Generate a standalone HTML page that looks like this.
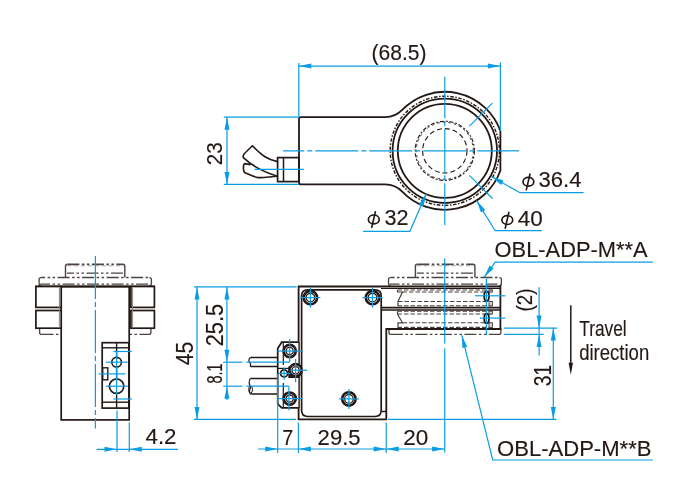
<!DOCTYPE html>
<html><head><meta charset="utf-8"><style>
html,body{margin:0;padding:0;background:#fff;}
svg{display:block;will-change:transform;font-family:"Liberation Sans",sans-serif;}
</style></head><body>
<svg width="700" height="500" viewBox="0 0 700 500">
<rect width="700" height="500" fill="#fff"/>
<path d="M 301,117.2 H 385.1 A 23.6 23.6 0 0 0 402.20,109.98 A 59.0 59.0 0 0 1 500.4,131.06 V 170.54 A 59.0 59.0 0 0 1 402.20,191.62 A 23.6 23.6 0 0 0 385.1,184.4 H 301 Q 299,184.4 299,182.4 V 119.2 Q 299,117.2 301,117.2 Z" fill="none" stroke="#231815" stroke-width="1.8" />
<circle cx="444.80" cy="150.80" r="54.60" fill="none" stroke="#231815" stroke-width="1.4" stroke-dasharray="3.5 1.6 1.5 1.6"/>
<circle cx="444.80" cy="150.80" r="52.20" fill="none" stroke="#231815" stroke-width="1.8" />
<circle cx="444.80" cy="150.80" r="47.00" fill="none" stroke="#231815" stroke-width="1.8" />
<circle cx="444.80" cy="150.80" r="29.60" fill="none" stroke="#231815" stroke-width="1.1" stroke-dasharray="4 1.8 2 1.8"/>
<circle cx="444.80" cy="150.80" r="28.50" fill="none" stroke="#231815" stroke-width="0.9" stroke-dasharray="2.5 3"/>
<circle cx="444.80" cy="150.80" r="22.20" fill="none" stroke="#231815" stroke-width="1.1" stroke-dasharray="5 3"/>
<rect x="277.60" y="157.60" width="21.40" height="24.00" rx="0" fill="none" stroke="#231815" stroke-width="1.7" />
<line x1="283.50" y1="157.60" x2="283.50" y2="181.60" stroke="#231815" stroke-width="1.5" />
<path d="M 277.4,161.6 C 268,159.5 262,156 252.4,145.8 L 246,152 C 243.5,154 242.5,156.5 243.8,158.3 M 243.6,157.8 C 250,163.5 258,170 277.4,176.2 M 244.2,163.6 L 250.5,164.6 M 244.2,163.6 C 243.2,166.5 243,170 244.6,172.6 C 250,175 254,177 258,177.6 C 262,178 268,177 277.4,176.2" fill="none" stroke="#231815" stroke-width="1.6" />
<line x1="254.40" y1="169.30" x2="303.90" y2="169.30" stroke="#0a9de3" stroke-width="1.2" />
<line x1="283.00" y1="150.80" x2="519.00" y2="150.80" stroke="#0a9de3" stroke-width="1.2" stroke-dasharray="43 3 5 3" stroke-dashoffset="21.70"/>
<line x1="444.80" y1="76.80" x2="444.80" y2="225.00" stroke="#0a9de3" stroke-width="1.2" stroke-dasharray="43 3 5 3" stroke-dashoffset="1.50"/>
<line x1="469.41" y1="126.19" x2="492.46" y2="103.14" stroke="#0a9de3" stroke-width="1.2" />
<line x1="469.41" y1="175.41" x2="492.46" y2="198.46" stroke="#0a9de3" stroke-width="1.2" />
<line x1="298.80" y1="63.00" x2="298.80" y2="117.20" stroke="#0a9de3" stroke-width="1.2" />
<line x1="500.40" y1="62.60" x2="500.40" y2="131.00" stroke="#0a9de3" stroke-width="1.2" />
<line x1="298.80" y1="66.10" x2="500.40" y2="66.10" stroke="#0a9de3" stroke-width="1.2" />
<polygon points="298.80,66.10 311.30,63.60 311.30,68.60" fill="#0a9de3" stroke="none" />
<polygon points="500.40,66.10 487.90,68.60 487.90,63.60" fill="#0a9de3" stroke="none" />
<text x="371.5" y="59.6" font-size="22.5" fill="#231815" stroke="#231815" stroke-width="0.15" text-anchor="start" textLength="55" lengthAdjust="spacingAndGlyphs">(68.5)</text>
<line x1="223.80" y1="117.20" x2="299.00" y2="117.20" stroke="#0a9de3" stroke-width="1.2" />
<line x1="223.80" y1="184.40" x2="299.00" y2="184.40" stroke="#0a9de3" stroke-width="1.2" />
<line x1="227.00" y1="117.20" x2="227.00" y2="184.40" stroke="#0a9de3" stroke-width="1.2" />
<polygon points="227.00,117.20 229.50,129.70 224.50,129.70" fill="#0a9de3" stroke="none" />
<polygon points="227.00,184.40 224.50,171.90 229.50,171.90" fill="#0a9de3" stroke="none" />
<text x="222" y="165.2" font-size="22.5" fill="#231815" stroke="#231815" stroke-width="0.15" text-anchor="start" textLength="23" lengthAdjust="spacingAndGlyphs" transform="rotate(-90 222 165.2)">23</text>
<polygon points="491.40,176.60 503.53,180.52 501.09,184.88" fill="#0a9de3" stroke="none" />
<polyline points="491.40,176.60 520.00,192.70 583.60,192.70" fill="none" stroke="#0a9de3" stroke-width="1.2" />
<ellipse cx="528.40" cy="181.80" rx="5.4" ry="4.4" fill="none" stroke="#231815" stroke-width="1.7"/>
<line x1="530.10" y1="173.50" x2="526.20" y2="190.40" stroke="#231815" stroke-width="1.6"/>
<text x="538.5" y="187.3" font-size="22.5" fill="#231815" stroke="#231815" stroke-width="0.15" text-anchor="start" textLength="43" lengthAdjust="spacingAndGlyphs">36.4</text>
<polygon points="476.60,200.60 485.24,209.97 480.98,212.57" fill="#0a9de3" stroke="none" />
<polyline points="476.60,200.60 495.20,230.70 541.70,230.70" fill="none" stroke="#0a9de3" stroke-width="1.2" />
<ellipse cx="507.30" cy="220.10" rx="5.4" ry="4.4" fill="none" stroke="#231815" stroke-width="1.7"/>
<line x1="509.00" y1="211.80" x2="505.10" y2="228.70" stroke="#231815" stroke-width="1.6"/>
<text x="517.8" y="225.6" font-size="22.5" fill="#231815" stroke="#231815" stroke-width="0.15" text-anchor="start" textLength="25" lengthAdjust="spacingAndGlyphs">40</text>
<polygon points="426.10,193.90 423.43,206.36 418.84,204.38" fill="#0a9de3" stroke="none" />
<polyline points="426.10,193.90 409.90,231.30 363.00,231.30" fill="none" stroke="#0a9de3" stroke-width="1.2" />
<ellipse cx="373.80" cy="219.40" rx="5.4" ry="4.4" fill="none" stroke="#231815" stroke-width="1.7"/>
<line x1="375.50" y1="211.10" x2="371.60" y2="228.00" stroke="#231815" stroke-width="1.6"/>
<text x="384.5" y="224.9" font-size="22.5" fill="#231815" stroke="#231815" stroke-width="0.15" text-anchor="start" textLength="24" lengthAdjust="spacingAndGlyphs">32</text>
<path d="M 65.5,277.5 V 266.2 Q 65.5,264.3 67.4,264.3" fill="none" stroke="#4a4341" stroke-width="1.4" />
<path d="M 124.8,277.5 V 266.2 Q 124.8,264.3 122.89999999999999,264.3" fill="none" stroke="#4a4341" stroke-width="1.4" />
<line x1="67.40" y1="264.30" x2="122.90" y2="264.30" stroke="#4a4341" stroke-width="1.7" stroke-dasharray="12 2.5 2.5 2.5 2.5 2.5"/>
<line x1="67.00" y1="265.80" x2="123.30" y2="265.80" stroke="#9a9492" stroke-width="0.8" stroke-dasharray="4 3"/>
<line x1="67.00" y1="273.20" x2="123.30" y2="273.20" stroke="#4a4341" stroke-width="1.3" stroke-dasharray="12 2.5 2.5 2.5 2.5 2.5" stroke-dashoffset="5"/>
<path d="M 41.1,277.6 Q 39.1,277.6 39.1,279.6 V 283.4 Q 39.1,285.6 41.1,285.6" fill="none" stroke="#4a4341" stroke-width="1.3" />
<path d="M 149.4,277.6 Q 151.4,277.6 151.4,279.6 V 283.4 Q 151.4,285.6 149.4,285.6" fill="none" stroke="#4a4341" stroke-width="1.3" />
<line x1="41.10" y1="277.60" x2="149.40" y2="277.60" stroke="#4a4341" stroke-width="1.5" stroke-dasharray="12 2.5 2.5 2.5 2.5 2.5" stroke-dashoffset="8"/>
<line x1="40.10" y1="284.10" x2="150.40" y2="284.10" stroke="#4a4341" stroke-width="1.2" stroke-dasharray="12 2.5 2.5 2.5 2.5 2.5" stroke-dashoffset="2"/>
<path d="M 39.6,328.5 V 332.5 Q 39.6,334.4 41.5,334.4" fill="none" stroke="#4a4341" stroke-width="1.3" />
<path d="M 150.9,328.5 V 332.5 Q 150.9,334.4 149.0,334.4" fill="none" stroke="#4a4341" stroke-width="1.3" />
<line x1="41.50" y1="334.40" x2="149.00" y2="334.40" stroke="#4a4341" stroke-width="1.4" stroke-dasharray="12 2.5 2.5 2.5 2.5 2.5"/>
<rect x="61.20" y="286.50" width="68.00" height="133.40" rx="0" fill="#fff" stroke="#231815" stroke-width="1.7" />
<line x1="35.40" y1="286.50" x2="154.50" y2="286.50" stroke="#231815" stroke-width="1.8" />
<rect x="35.90" y="286.50" width="25.30" height="20.90" rx="0" fill="#fff" stroke="#231815" stroke-width="1.7" />
<rect x="35.90" y="310.50" width="25.30" height="17.70" rx="0" fill="#fff" stroke="#231815" stroke-width="1.7" />
<rect x="130.90" y="286.50" width="23.50" height="20.90" rx="0" fill="#fff" stroke="#231815" stroke-width="1.7" />
<rect x="130.90" y="310.50" width="23.50" height="17.70" rx="0" fill="#fff" stroke="#231815" stroke-width="1.7" />
<line x1="59.40" y1="287.50" x2="59.40" y2="327.50" stroke="#8a8482" stroke-width="1.0" />
<line x1="132.60" y1="287.50" x2="132.60" y2="327.50" stroke="#8a8482" stroke-width="1.0" />
<rect x="102.20" y="342.70" width="26.70" height="65.40" rx="0" fill="none" stroke="#231815" stroke-width="1.7" />
<line x1="102.20" y1="347.80" x2="128.90" y2="347.80" stroke="#231815" stroke-width="1.4" />
<line x1="102.20" y1="402.20" x2="128.90" y2="402.20" stroke="#231815" stroke-width="1.4" />
<line x1="116.60" y1="342.70" x2="116.60" y2="408.10" stroke="#231815" stroke-width="1.4" />
<rect x="102.70" y="367.80" width="5.10" height="12.00" rx="0" fill="none" stroke="#231815" stroke-width="1.4" />
<circle cx="116.60" cy="362.20" r="4.80" fill="#fff" stroke="#231815" stroke-width="1.6" />
<circle cx="116.60" cy="386.20" r="7.20" fill="#fff" stroke="#231815" stroke-width="1.7" />
<line x1="95.40" y1="256.00" x2="95.40" y2="428.60" stroke="#0a9de3" stroke-width="1.2" stroke-dasharray="43 3 5 3" stroke-dashoffset="0.00"/>
<line x1="113.40" y1="351.50" x2="131.80" y2="351.50" stroke="#0a9de3" stroke-width="1.2" />
<line x1="105.90" y1="362.20" x2="127.80" y2="362.20" stroke="#0a9de3" stroke-width="1.2" />
<line x1="98.50" y1="373.90" x2="125.40" y2="373.90" stroke="#0a9de3" stroke-width="1.2" />
<line x1="105.90" y1="386.20" x2="127.80" y2="386.20" stroke="#0a9de3" stroke-width="1.2" />
<line x1="113.40" y1="399.00" x2="131.80" y2="399.00" stroke="#0a9de3" stroke-width="1.2" />
<line x1="116.60" y1="352.00" x2="116.60" y2="395.00" stroke="#0a9de3" stroke-width="1.2" />
<line x1="117.00" y1="410.50" x2="117.00" y2="452.10" stroke="#0a9de3" stroke-width="1.2" />
<line x1="129.30" y1="422.30" x2="129.30" y2="452.10" stroke="#0a9de3" stroke-width="1.2" />
<line x1="96.60" y1="449.30" x2="178.00" y2="449.30" stroke="#0a9de3" stroke-width="1.2" />
<polygon points="117.00,449.30 104.50,451.80 104.50,446.80" fill="#0a9de3" stroke="none" />
<polygon points="129.30,449.30 141.80,446.80 141.80,451.80" fill="#0a9de3" stroke="none" />
<text x="145.5" y="444.3" font-size="22.5" fill="#231815" stroke="#231815" stroke-width="0.15" text-anchor="start" textLength="31" lengthAdjust="spacingAndGlyphs">4.2</text>
<path d="M 415.4,277.5 V 266.2 Q 415.4,264.3 417.29999999999995,264.3" fill="none" stroke="#4a4341" stroke-width="1.4" />
<path d="M 474.9,277.5 V 266.2 Q 474.9,264.3 473.0,264.3" fill="none" stroke="#4a4341" stroke-width="1.4" />
<line x1="417.30" y1="264.30" x2="473.00" y2="264.30" stroke="#4a4341" stroke-width="1.7" stroke-dasharray="12 2.5 2.5 2.5 2.5 2.5"/>
<line x1="416.90" y1="265.80" x2="473.40" y2="265.80" stroke="#9a9492" stroke-width="0.8" stroke-dasharray="4 3"/>
<line x1="416.90" y1="273.20" x2="473.40" y2="273.20" stroke="#4a4341" stroke-width="1.3" stroke-dasharray="12 2.5 2.5 2.5 2.5 2.5" stroke-dashoffset="5"/>
<path d="M 390.5,277.6 Q 388.5,277.6 388.5,279.6 V 283.4 Q 388.5,285.6 390.5,285.6" fill="none" stroke="#4a4341" stroke-width="1.3" />
<path d="M 499.4,277.6 Q 501.4,277.6 501.4,279.6 V 283.4 Q 501.4,285.6 499.4,285.6" fill="none" stroke="#4a4341" stroke-width="1.3" />
<line x1="390.50" y1="277.60" x2="499.40" y2="277.60" stroke="#4a4341" stroke-width="1.5" stroke-dasharray="12 2.5 2.5 2.5 2.5 2.5" stroke-dashoffset="8"/>
<line x1="389.50" y1="284.10" x2="500.40" y2="284.10" stroke="#4a4341" stroke-width="1.2" stroke-dasharray="12 2.5 2.5 2.5 2.5 2.5" stroke-dashoffset="2"/>
<path d="M 389.0,328.5 V 332.5 Q 389.0,334.4 390.9,334.4" fill="none" stroke="#4a4341" stroke-width="1.3" />
<path d="M 500.9,328.5 V 332.5 Q 500.9,334.4 499.0,334.4" fill="none" stroke="#4a4341" stroke-width="1.3" />
<line x1="390.90" y1="334.40" x2="499.00" y2="334.40" stroke="#4a4341" stroke-width="1.4" stroke-dasharray="12 2.5 2.5 2.5 2.5 2.5"/>
<path d="M 298.6,286.5 H 500.4 V 329 H 386.3 V 419.3 H 298.6 Z" fill="#fff" stroke="#231815" stroke-width="1.8" />
<path d="M 397.5,290.0 V 292 H 402.5 L 398,301.5 V 305.8" fill="none" stroke="#4a4341" stroke-width="1.2" />
<line x1="397.50" y1="290.00" x2="492.00" y2="290.00" stroke="#4a4341" stroke-width="1.1" stroke-dasharray="4.5 2"/>
<line x1="402.50" y1="292.00" x2="492.00" y2="292.00" stroke="#4a4341" stroke-width="1.1" stroke-dasharray="4.5 2"/>
<line x1="398.00" y1="301.50" x2="492.00" y2="301.50" stroke="#4a4341" stroke-width="1.1" stroke-dasharray="4.5 2"/>
<line x1="397.50" y1="305.80" x2="492.00" y2="305.80" stroke="#4a4341" stroke-width="1.1" stroke-dasharray="4.5 2"/>
<rect x="489.00" y="290.00" width="3.50" height="2.00" rx="0" fill="#d8d4d2" stroke="#4a4341" stroke-width="0.9" />
<rect x="489.00" y="301.50" width="3.50" height="4.30" rx="0" fill="#d8d4d2" stroke="#4a4341" stroke-width="0.9" />
<path d="M 397.5,311.2 V 314 L 402.5,322.8 H 398 V 327.6" fill="none" stroke="#4a4341" stroke-width="1.2" />
<line x1="397.50" y1="311.20" x2="492.00" y2="311.20" stroke="#4a4341" stroke-width="1.1" stroke-dasharray="4.5 2"/>
<line x1="397.50" y1="314.00" x2="492.00" y2="314.00" stroke="#4a4341" stroke-width="1.1" stroke-dasharray="4.5 2"/>
<line x1="402.50" y1="322.80" x2="492.00" y2="322.80" stroke="#4a4341" stroke-width="1.1" stroke-dasharray="4.5 2"/>
<line x1="397.50" y1="327.40" x2="492.00" y2="327.40" stroke="#4a4341" stroke-width="1.1" stroke-dasharray="4.5 2"/>
<rect x="489.00" y="311.20" width="3.50" height="2.80" rx="0" fill="#d8d4d2" stroke="#4a4341" stroke-width="0.9" />
<rect x="489.00" y="322.80" width="3.50" height="4.60" rx="0" fill="#d8d4d2" stroke="#4a4341" stroke-width="0.9" />
<line x1="381.00" y1="288.50" x2="500.40" y2="288.50" stroke="#231815" stroke-width="1.0" />
<line x1="381.00" y1="307.60" x2="500.40" y2="307.60" stroke="#231815" stroke-width="1.7" />
<line x1="381.00" y1="310.00" x2="500.40" y2="310.00" stroke="#231815" stroke-width="1.7" />
<ellipse cx="486.6" cy="296.2" rx="2.4" ry="4.8" fill="none" stroke="#231815" stroke-width="1.9"/>
<ellipse cx="486.6" cy="318.4" rx="2.4" ry="4.8" fill="none" stroke="#231815" stroke-width="1.9"/>
<path d="M 301.6,296 Q 301.6,289.8 307.8,289.8 H 375 Q 381.2,289.8 381.2,296 V 410.3 Q 381.2,416.5 375,416.5 H 307.8 Q 301.6,416.5 301.6,410.3 Z" fill="none" stroke="#231815" stroke-width="1.7" />
<line x1="381.80" y1="411.50" x2="386.30" y2="411.50" stroke="#231815" stroke-width="1.5" />
<circle cx="310.40" cy="297.60" r="6.70" fill="#fff" stroke="#231815" stroke-width="2.6" />
<circle cx="310.40" cy="297.60" r="4.30" fill="none" stroke="#231815" stroke-width="1.3" />
<circle cx="372.50" cy="297.60" r="6.70" fill="#fff" stroke="#231815" stroke-width="2.6" />
<circle cx="372.50" cy="297.60" r="4.30" fill="none" stroke="#231815" stroke-width="1.3" />
<circle cx="348.90" cy="398.90" r="6.70" fill="#fff" stroke="#231815" stroke-width="2.6" />
<circle cx="348.90" cy="398.90" r="4.30" fill="none" stroke="#231815" stroke-width="1.3" />
<path d="M 299,342.2 H 281.7 L 277.7,348.6 V 403.9 L 281.7,407.9 H 299" fill="#fff" stroke="#231815" stroke-width="1.7" />
<path d="M 299,342.2 V 407.9" fill="none" stroke="#231815" stroke-width="1.2" />
<line x1="283.30" y1="342.20" x2="283.30" y2="365.00" stroke="#231815" stroke-width="1.2" />
<rect x="288.90" y="367.00" width="10.10" height="10.40" rx="0" fill="#231815" stroke="#231815" stroke-width="1.2" />
<line x1="283.30" y1="383.00" x2="283.30" y2="407.90" stroke="#231815" stroke-width="1.2" />
<circle cx="289.70" cy="351.00" r="6.10" fill="#fff" stroke="#231815" stroke-width="2.6" />
<circle cx="289.70" cy="351.00" r="3.60" fill="none" stroke="#231815" stroke-width="1.3" />
<circle cx="295.60" cy="370.20" r="6.10" fill="#fff" stroke="#231815" stroke-width="2.6" />
<circle cx="295.60" cy="370.20" r="3.60" fill="none" stroke="#231815" stroke-width="1.3" />
<circle cx="289.70" cy="398.60" r="6.10" fill="#fff" stroke="#231815" stroke-width="2.6" />
<circle cx="289.70" cy="398.60" r="3.60" fill="none" stroke="#231815" stroke-width="1.3" />
<circle cx="284.10" cy="373.40" r="3.50" fill="#fff" stroke="#231815" stroke-width="1.8" />
<line x1="277.70" y1="368.40" x2="289.00" y2="368.40" stroke="#231815" stroke-width="1.2" />
<path d="M 277.7,357.5 H 250.3 M 250.3,366.5 H 277.7" fill="none" stroke="#231815" stroke-width="1.7" />
<path d="M 250.3,357.5 C 248.3,359.5 248.6,362 250.2,363.2 C 251.6,364.4 249.8,365.8 250.3,366.5" fill="none" stroke="#231815" stroke-width="1.2" />
<path d="M 277.7,378.5 H 250.3 M 250.3,394 H 277.7" fill="none" stroke="#231815" stroke-width="1.7" />
<path d="M 250.3,378.5 C 248.6,381 249,384.5 250.3,386 C 251.5,387.5 248.8,390 249.6,392 C 250,393.2 250.2,393.8 250.3,394" fill="none" stroke="#231815" stroke-width="1.2" />
<ellipse cx="250.6" cy="389.5" rx="1.9" ry="3.6" fill="none" stroke="#231815" stroke-width="1.0"/>
<line x1="300.40" y1="297.60" x2="320.40" y2="297.60" stroke="#0a9de3" stroke-width="1.2" />
<line x1="310.40" y1="287.60" x2="310.40" y2="307.60" stroke="#0a9de3" stroke-width="1.2" />
<line x1="362.50" y1="297.60" x2="382.50" y2="297.60" stroke="#0a9de3" stroke-width="1.2" />
<line x1="372.50" y1="287.60" x2="372.50" y2="307.60" stroke="#0a9de3" stroke-width="1.2" />
<line x1="338.90" y1="398.90" x2="358.90" y2="398.90" stroke="#0a9de3" stroke-width="1.2" />
<line x1="348.90" y1="388.90" x2="348.90" y2="408.90" stroke="#0a9de3" stroke-width="1.2" />
<line x1="277.70" y1="351.00" x2="302.50" y2="351.00" stroke="#0a9de3" stroke-width="1.2" />
<line x1="289.70" y1="339.00" x2="289.70" y2="362.20" stroke="#0a9de3" stroke-width="1.2" />
<line x1="290.50" y1="370.20" x2="307.30" y2="370.20" stroke="#0a9de3" stroke-width="1.2" />
<line x1="295.60" y1="359.00" x2="295.60" y2="382.20" stroke="#0a9de3" stroke-width="1.2" />
<line x1="278.50" y1="373.40" x2="290.50" y2="373.40" stroke="#0a9de3" stroke-width="1.2" />
<line x1="284.10" y1="367.80" x2="284.10" y2="379.80" stroke="#0a9de3" stroke-width="1.2" />
<line x1="277.70" y1="398.60" x2="302.50" y2="398.60" stroke="#0a9de3" stroke-width="1.2" />
<line x1="288.90" y1="386.20" x2="288.90" y2="410.30" stroke="#0a9de3" stroke-width="1.2" />
<line x1="194.00" y1="286.90" x2="296.60" y2="286.90" stroke="#0a9de3" stroke-width="1.2" />
<line x1="194.00" y1="419.40" x2="296.00" y2="419.40" stroke="#0a9de3" stroke-width="1.2" />
<line x1="197.00" y1="286.90" x2="197.00" y2="419.40" stroke="#0a9de3" stroke-width="1.2" />
<polygon points="197.00,286.90 199.50,299.40 194.50,299.40" fill="#0a9de3" stroke="none" />
<polygon points="197.00,419.40 194.50,406.90 199.50,406.90" fill="#0a9de3" stroke="none" />
<text x="192.7" y="365.3" font-size="23" fill="#231815" stroke="#231815" stroke-width="0.15" text-anchor="start" textLength="23.5" lengthAdjust="spacingAndGlyphs" transform="rotate(-90 192.7 365.3)">45</text>
<line x1="226.90" y1="286.90" x2="226.90" y2="400.00" stroke="#0a9de3" stroke-width="1.2" />
<polygon points="226.90,286.90 229.40,299.40 224.40,299.40" fill="#0a9de3" stroke="none" />
<polygon points="226.90,362.20 224.40,349.70 229.40,349.70" fill="#0a9de3" stroke="none" />
<polygon points="226.90,386.20 229.40,398.70 224.40,398.70" fill="#0a9de3" stroke="none" />
<text x="222.6" y="346.3" font-size="23.5" fill="#231815" stroke="#231815" stroke-width="0.15" text-anchor="start" textLength="42.5" lengthAdjust="spacingAndGlyphs" transform="rotate(-90 222.6 346.3)">25.5</text>
<text x="222.4" y="383.4" font-size="22.5" fill="#231815" stroke="#231815" stroke-width="0.15" text-anchor="start" textLength="20" lengthAdjust="spacingAndGlyphs" transform="rotate(-90 222.4 383.4)">8.1</text>
<line x1="223.20" y1="362.20" x2="242.40" y2="362.20" stroke="#0a9de3" stroke-width="1.2" />
<line x1="246.40" y1="362.20" x2="289.70" y2="362.20" stroke="#0a9de3" stroke-width="1.2" />
<line x1="223.20" y1="386.20" x2="242.40" y2="386.20" stroke="#0a9de3" stroke-width="1.2" />
<line x1="246.40" y1="386.20" x2="288.90" y2="386.20" stroke="#0a9de3" stroke-width="1.2" />
<line x1="277.70" y1="374.00" x2="277.70" y2="453.00" stroke="#0a9de3" stroke-width="1.2" />
<line x1="298.40" y1="422.60" x2="298.40" y2="453.00" stroke="#0a9de3" stroke-width="1.2" />
<line x1="386.20" y1="422.60" x2="386.20" y2="453.00" stroke="#0a9de3" stroke-width="1.2" />
<line x1="258.00" y1="449.00" x2="444.60" y2="449.00" stroke="#0a9de3" stroke-width="1.2" />
<polygon points="277.70,449.00 265.20,451.50 265.20,446.50" fill="#0a9de3" stroke="none" />
<polygon points="298.40,449.00 310.90,446.50 310.90,451.50" fill="#0a9de3" stroke="none" />
<polygon points="386.20,449.00 373.70,451.50 373.70,446.50" fill="#0a9de3" stroke="none" />
<polygon points="386.20,449.00 398.70,446.50 398.70,451.50" fill="#0a9de3" stroke="none" />
<polygon points="444.60,449.00 432.10,451.50 432.10,446.50" fill="#0a9de3" stroke="none" />
<text x="282.2" y="445" font-size="22.5" fill="#231815" stroke="#231815" stroke-width="0.15" text-anchor="start" textLength="11" lengthAdjust="spacingAndGlyphs">7</text>
<text x="317.6" y="445" font-size="22.5" fill="#231815" stroke="#231815" stroke-width="0.15" text-anchor="start" textLength="43" lengthAdjust="spacingAndGlyphs">29.5</text>
<text x="403.2" y="444.8" font-size="22.5" fill="#231815" stroke="#231815" stroke-width="0.15" text-anchor="start" textLength="25" lengthAdjust="spacingAndGlyphs">20</text>
<line x1="388.00" y1="419.40" x2="556.60" y2="419.40" stroke="#0a9de3" stroke-width="1.2" />
<line x1="444.70" y1="258.50" x2="444.70" y2="343.60" stroke="#0a9de3" stroke-width="1.2" />
<line x1="444.70" y1="348.20" x2="444.70" y2="452.60" stroke="#0a9de3" stroke-width="1.2" />
<line x1="486.40" y1="278.80" x2="486.40" y2="335.00" stroke="#0a9de3" stroke-width="1.2" />
<line x1="474.90" y1="295.80" x2="505.50" y2="295.80" stroke="#0a9de3" stroke-width="1.2" />
<line x1="480.00" y1="318.10" x2="505.50" y2="318.10" stroke="#0a9de3" stroke-width="1.2" />
<line x1="503.80" y1="328.10" x2="557.10" y2="328.10" stroke="#0a9de3" stroke-width="1.2" />
<line x1="503.80" y1="334.40" x2="543.70" y2="334.40" stroke="#0a9de3" stroke-width="1.2" />
<line x1="539.10" y1="287.20" x2="539.10" y2="355.60" stroke="#0a9de3" stroke-width="1.2" />
<polygon points="539.10,328.10 536.60,315.60 541.60,315.60" fill="#0a9de3" stroke="none" />
<polygon points="539.10,334.40 541.60,346.90 536.60,346.90" fill="#0a9de3" stroke="none" />
<text x="532.4" y="311.4" font-size="22.5" fill="#231815" stroke="#231815" stroke-width="0.15" text-anchor="start" textLength="23" lengthAdjust="spacingAndGlyphs" transform="rotate(-90 532.4 311.4)">(2)</text>
<line x1="553.30" y1="328.10" x2="553.30" y2="419.40" stroke="#0a9de3" stroke-width="1.2" />
<polygon points="553.30,328.10 555.80,340.60 550.80,340.60" fill="#0a9de3" stroke="none" />
<polygon points="553.30,419.40 550.80,406.90 555.80,406.90" fill="#0a9de3" stroke="none" />
<text x="550.6" y="386.2" font-size="23.5" fill="#231815" stroke="#231815" stroke-width="0.15" text-anchor="start" textLength="21.5" lengthAdjust="spacingAndGlyphs" transform="rotate(-90 550.6 386.2)">31</text>
<line x1="570.80" y1="305.20" x2="570.80" y2="366.00" stroke="#231815" stroke-width="1.5" />
<polygon points="570.80,374.80 568.60,362.80 573.00,362.80" fill="#231815" stroke="none" />
<text x="579.2" y="336.4" font-size="22.5" fill="#231815" stroke="#231815" stroke-width="0.15" text-anchor="start" textLength="47.5" lengthAdjust="spacingAndGlyphs">Travel</text>
<text x="579.2" y="359.9" font-size="22.5" fill="#231815" stroke="#231815" stroke-width="0.15" text-anchor="start" textLength="70" lengthAdjust="spacingAndGlyphs">direction</text>
<polygon points="484.20,277.10 489.66,265.58 493.67,268.57" fill="#0a9de3" stroke="none" />
<polyline points="484.20,277.10 495.30,262.20 652.80,262.20" fill="none" stroke="#0a9de3" stroke-width="1.2" />
<text x="494.6" y="257.2" font-size="22.5" fill="#231815" stroke="#231815" stroke-width="0.15" text-anchor="start" textLength="153" lengthAdjust="spacingAndGlyphs">OBL-ADP-M**A</text>
<polygon points="461.80,335.20 467.22,346.74 462.36,347.94" fill="#0a9de3" stroke="none" />
<polyline points="461.80,335.20 492.70,460.00 652.90,460.00" fill="none" stroke="#0a9de3" stroke-width="1.2" />
<text x="497" y="455.7" font-size="22.5" fill="#231815" stroke="#231815" stroke-width="0.15" text-anchor="start" textLength="154.5" lengthAdjust="spacingAndGlyphs">OBL-ADP-M**B</text>
</svg></body></html>
